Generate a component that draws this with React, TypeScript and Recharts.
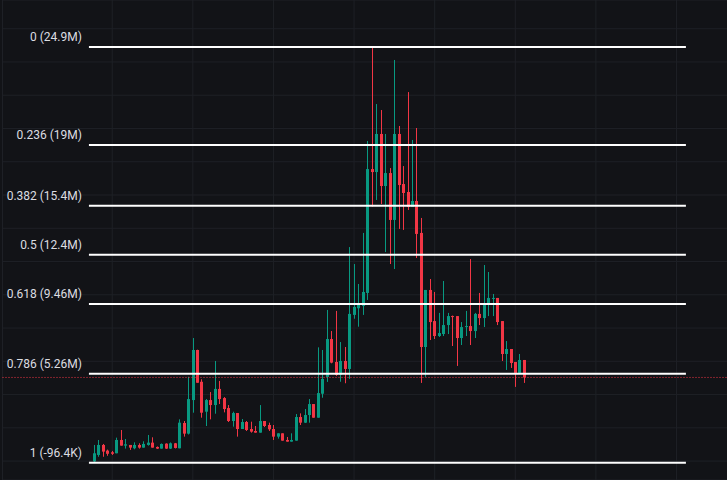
import { Bar, CartesianGrid, ComposedChart, ReferenceLine, XAxis, YAxis } from "recharts";

// candle values, in millions
const opens = [
  -0.02, 0.37, 0.97, 0.63, 0.53, 0.47, 1.27, 0.93, 0.97, 0.77, 0.97, 0.81, 0.97, 1.11, 0.85, 0.75, 1.05, 0.75, 1.07, 0.77,
  2.29, 1.65, 3.67, 6.68, 4.77, 2.97, 3.67, 3.37, 4.34, 3.79, 3.19, 2.41, 2.89, 1.93, 2.35, 1.93, 1.81, 1.71, 2.41, 2.17,
  1.93, 1.47, 1.67, 1.27, 1.17, 1.23, 2.65, 2.31, 2.77, 3.43, 2.61, 4.05, 5.06, 7.34, 5.96, 5.18, 6.02, 5.54, 8.79, 9.19,
  9.33, 10.11, 17.56, 17.38, 19.67, 16.54, 17.32, 14.5, 19.67, 16.66, 16.18, 15.28, 15.64, 13.72, 6.86, 10.29, 8.42, 7.52, 7.64, 8.18,
  8.72, 8.72, 7.4, 8.06, 8.12, 7.82, 8.85, 8.6, 9.39, 9.75, 9.81, 8.42, 6.44, 6.74, 5.96, 5.3, 6.08,
];
const highs = [
  0.97, 1.27, 1.03, 0.69, 0.61, 1.41, 1.87, 1.33, 0.97, 1.13, 1.07, 1.19, 1.57, 1.43, 0.88, 1.06, 1.07, 1.12, 1.09, 2.51,
  2.41, 5.07, 7.4, 6.7, 4.92, 3.73, 4.15, 6.02, 4.82, 3.85, 3.37, 2.97, 2.89, 2.53, 2.41, 2.37, 2.11, 3.37, 2.41, 2.31,
  2.17, 1.67, 1.67, 1.45, 1.67, 2.83, 2.87, 3.13, 3.73, 3.43, 6.84, 6.68, 9.09, 7.82, 9.03, 7.16, 6.86, 12.87, 11.85, 10.65,
  13.72, 19.25, 24.92, 21.47, 21.11, 19.67, 17.62, 24.12, 20.15, 17.74, 22.19, 19.31, 20.03, 14.62, 10.29, 10.95, 10.17, 8.91, 10.83, 8.91,
  8.75, 8.72, 8.36, 9.03, 12.15, 8.91, 10.11, 11.79, 11.37, 10.05, 9.81, 8.42, 7.22, 6.74, 5.96, 6.44, 6.08,
];
const lows = [
  -0.05, 0.26, 0.26, 0.32, 0.37, 0.47, 0.93, 0.75, 0.67, 0.71, 0.75, 0.81, 0.93, 0.81, 0.73, 0.75, 0.73, 0.73, 0.76, 0.77,
  1.47, 1.6, 2.91, 4.71, 2.61, 2.11, 2.51, 2.85, 3.43, 2.93, 2.35, 2.07, 1.47, 1.93, 1.81, 1.71, 1.71, 1.71, 2.05, 1.81,
  1.27, 1.35, 1.23, 1.17, 1.17, 1.23, 2.17, 2.29, 2.31, 2.61, 2.61, 3.81, 4.76, 5.88, 5.12, 4.77, 4.68, 4.94, 8.56, 8.08,
  8.79, 9.69, 15.3, 15.7, 15.46, 12.57, 11.85, 11.55, 13.96, 13.9, 15.1, 15.28, 12.21, 4.7, 5.06, 7.28, 7.34, 7.46, 7.52, 7.64,
  6.92, 5.72, 6.98, 7.52, 6.98, 7.4, 8.18, 8.06, 8.72, 8.72, 8.18, 6.02, 5.48, 5.6, 4.46, 5.24, 4.7,
];
const closes = [
  0.47, 0.97, 0.57, 0.44, 0.44, 1.27, 0.93, 1.01, 0.81, 0.97, 0.81, 1.03, 1.11, 0.81, 0.75, 1.03, 0.75, 1.07, 0.79, 2.31,
  1.65, 3.73, 6.68, 4.71, 2.91, 3.67, 3.37, 4.34, 3.73, 3.13, 2.41, 2.89, 1.93, 2.35, 1.87, 1.77, 1.71, 2.41, 2.11, 1.91,
  1.47, 1.67, 1.23, 1.17, 1.27, 2.65, 2.31, 2.77, 3.43, 2.61, 4.09, 4.94, 7.34, 5.92, 5.18, 6.02, 5.54, 8.85, 9.27, 9.39,
  10.17, 17.56, 17.38, 19.67, 16.54, 17.32, 14.5, 19.67, 16.6, 16.12, 15.28, 15.64, 13.66, 6.86, 10.29, 8.36, 7.52, 7.7, 8.18, 8.72,
  8.66, 7.4, 8.06, 8.12, 7.82, 8.85, 8.6, 9.45, 9.81, 9.81, 8.36, 6.44, 6.74, 5.9, 5.3, 6.08, 5.03,
];

const fibRatios = [0, 0.236, 0.382, 0.5, 0.618, 0.786, 1];
const fibLabels = ["0 (24.9M)", "0.236 (19M)", "0.382 (15.4M)", "0.5 (12.4M)", "0.618 (9.46M)", "0.786 (5.26M)", "1 (-96.4K)"];
const fibHigh = 24.9;
const fibLow = -0.0964;
const fibSpan = [-1.2, 132.1]; // bar index where the drawing starts / ends

const priceTicks = [0, 2, 4, 6, 8, 10, 12, 14, 16, 18, 20, 22, 24, 26];
const timeTicks = [4, 22, 40, 58, 76, 94, 112, 130];
const leadSlots = 20;
const totalSlots = 162;

const GREEN = "#089981";
const RED = "#f23645";
const BG = "#121317";

const rows = Array.from({ length: totalSlots }, (_, s) => {
  const i = s - leadSlots;
  if (i < 0 || i >= opens.length) return { slot: String(s), pos: i, range: null };
  return { slot: String(s), pos: i, range: [lows[i], highs[i]], o: opens[i], h: highs[i], l: lows[i], c: closes[i] };
});

function Candle(props: any) {
  const { x, y, width, height, payload } = props;
  if (!payload || payload.range == null) return null;
  const { o, h, l, c } = payload;
  const top = Math.min(y, y + height);
  const bottom = Math.max(y, y + height);
  const span = h - l || 1;
  const py = (v: number) => top + ((h - v) / span) * (bottom - top);
  const cx = Math.floor(x + width / 2);
  const color = c >= o ? GREEN : RED;
  const bTop = py(Math.max(o, c));
  const bBot = py(Math.min(o, c));
  return (
    <g>
      <line x1={cx + 0.5} x2={cx + 0.5} y1={top} y2={bottom} stroke={color} strokeWidth={1} />
      <rect x={cx - 1} y={bTop} width={3} height={Math.max(1, bBot - bTop)} fill={color} />
    </g>
  );
}

const fibLabel = (text: string) => (props: any) => {
  const vb = props.viewBox || {};
  return (
    <text x={vb.x - 7} y={vb.y - 6} textAnchor="end" fill="#dcdde1" fontSize={12} fontFamily="Roboto">
      {text}
    </text>
  );
};

export default function App() {
  const lastClose = closes[closes.length - 1];
  return (
    <div style={{ position: "fixed", left: 0, top: 0, width: 727, height: 480, background: BG }}>
      <ComposedChart width={727} height={480} data={rows} margin={{ top: 0, right: -1, bottom: 0, left: 2.5 }}>
        <XAxis xAxisId="bars" dataKey="slot" hide />
        <XAxis
          xAxisId="fib"
          dataKey="pos"
          type="number"
          domain={[-20.5, 141.5]}
          ticks={timeTicks}
          allowDataOverflow
          hide
        />
        <YAxis domain={[-1.137, 27.726]} ticks={priceTicks} allowDataOverflow hide />
        <CartesianGrid xAxisId="fib" stroke="#1e2026" strokeWidth={1} />
        <Bar xAxisId="bars" dataKey="range" shape={<Candle />} isAnimationActive={false} />
        {fibRatios.map((r, k) => {
          const level = fibHigh - r * (fibHigh - fibLow);
          return (
            <ReferenceLine
              key={r}
              xAxisId="fib"
              ifOverflow="visible"
              segment={[{ x: fibSpan[0], y: level }, { x: fibSpan[1], y: level }]}
              stroke="#ffffff"
              strokeWidth={2}
              label={fibLabel(fibLabels[k])}
            />
          );
        })}
        <ReferenceLine xAxisId="fib" y={lastClose} stroke={RED} strokeWidth={1} strokeDasharray="1 2" />
      </ComposedChart>
    </div>
  );
}
